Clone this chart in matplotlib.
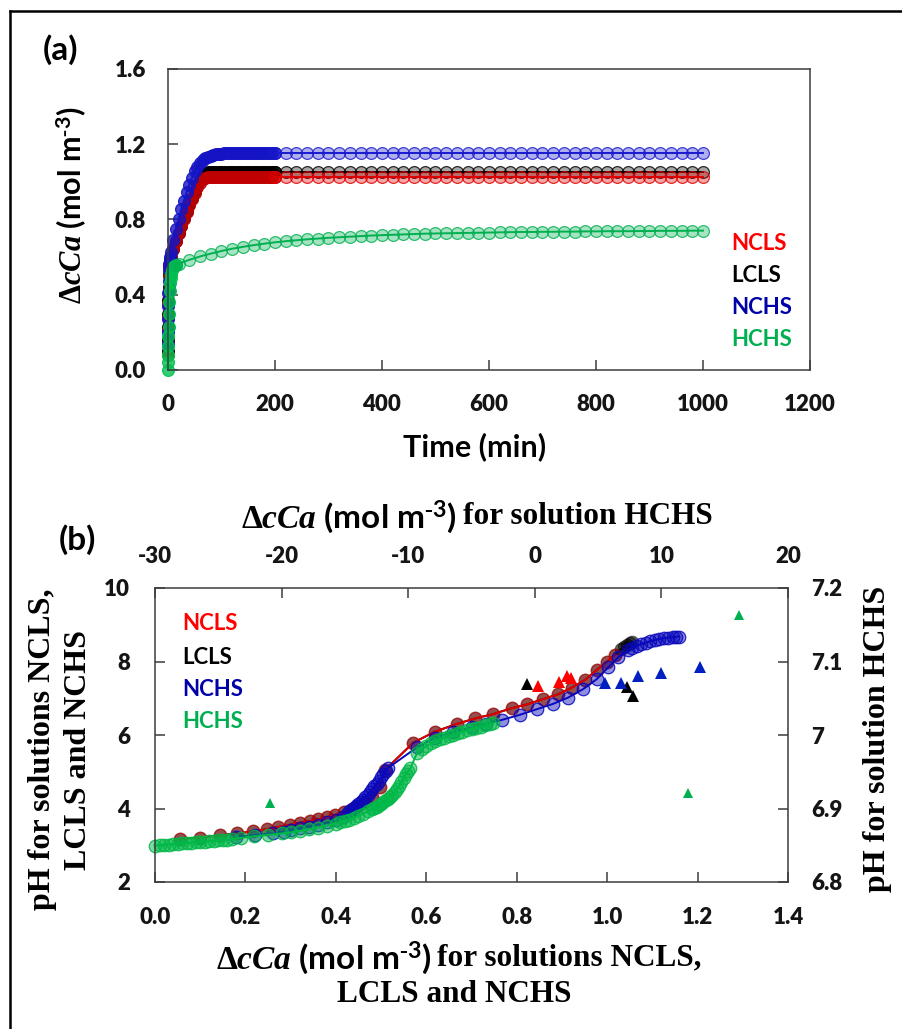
import matplotlib
matplotlib.use("Agg")
import matplotlib.pyplot as plt
from matplotlib.colors import to_rgba
from matplotlib.lines import Line2D

plt.rcParams['font.family'] = ['Lato', 'DejaVu Sans']
plt.rcParams['font.weight'] = 'bold'
plt.rcParams['axes.unicode_minus'] = False
plt.rcParams['mathtext.fontset'] = 'custom'
plt.rcParams['mathtext.rm'] = 'Liberation Serif'
plt.rcParams['mathtext.it'] = 'Liberation Serif:italic'
plt.rcParams['mathtext.bf'] = 'Liberation Serif:bold'
plt.rcParams['mathtext.sf'] = 'Lato:bold'

# ---------------- (a) calcium uptake vs time ----------------
TIME_A = [0, 0.2, 0.4, 0.6, 0.8, 1, 1.5, 2, 3, 4,
          5, 10, 15, 20, 25, 30, 35, 40, 45, 50, 55, 60, 65, 70, 75, 80, 85, 90, 95, 100,
          105, 110, 115, 120, 125, 130, 135, 140, 145, 150, 155, 160, 165, 170, 175, 180,
          185, 190, 195, 200,
          220, 240, 260, 280, 300, 320, 340, 360, 380, 400, 420, 440, 460, 480, 500, 520,
          540, 560, 580, 600, 620, 640, 660, 680, 700, 720, 740, 760, 780, 800, 820, 840,
          860, 880, 900, 920, 940, 960, 980, 1000]

DCA_NCLS = [0.08, 0.14, 0.21, 0.28, 0.35, 0.42, 0.50, 0.55, 0.57, 0.585,
            0.60, 0.645, 0.685, 0.725, 0.765, 0.80, 0.84, 0.875, 0.91, 0.94, 0.97, 0.995,
            1.015, 1.022, 1.024, 1.024, 1.024, 1.024, 1.024, 1.024,
            1.024, 1.024, 1.024, 1.024, 1.024, 1.024, 1.024, 1.024, 1.024, 1.024, 1.024,
            1.024, 1.024, 1.024, 1.024, 1.024, 1.024, 1.024, 1.024, 1.024,
            1.024, 1.024, 1.024, 1.024, 1.024, 1.024, 1.024, 1.024, 1.024, 1.024, 1.024,
            1.024, 1.024, 1.024, 1.024, 1.024, 1.024, 1.024, 1.024, 1.024, 1.024, 1.024,
            1.024, 1.024, 1.024, 1.024, 1.024, 1.024, 1.024, 1.024, 1.024, 1.024, 1.024,
            1.024, 1.024, 1.024, 1.024, 1.024, 1.024, 1.024]

DCA_LCLS = [0.10, 0.16, 0.23, 0.30, 0.37, 0.44, 0.51, 0.55, 0.57, 0.585,
            0.60, 0.645, 0.685, 0.725, 0.765, 0.805, 0.845, 0.88, 0.915, 0.95, 0.98, 1.01,
            1.035, 1.048, 1.05, 1.05, 1.05, 1.05, 1.05, 1.05,
            1.05, 1.05, 1.05, 1.05, 1.05, 1.05, 1.05, 1.05, 1.05, 1.05, 1.05,
            1.05, 1.05, 1.05, 1.05, 1.05, 1.05, 1.05, 1.05, 1.05,
            1.05, 1.05, 1.05, 1.05, 1.05, 1.05, 1.05, 1.05, 1.05, 1.05, 1.05,
            1.05, 1.05, 1.05, 1.05, 1.05, 1.05, 1.05, 1.05, 1.05, 1.05, 1.05,
            1.05, 1.05, 1.05, 1.05, 1.05, 1.05, 1.05, 1.05, 1.05, 1.05, 1.05,
            1.05, 1.05, 1.05, 1.05, 1.05, 1.05, 1.05]

DCA_NCHS = [0.14, 0.20, 0.27, 0.34, 0.41, 0.47, 0.53, 0.565, 0.585, 0.60,
            0.625, 0.69, 0.75, 0.80, 0.855, 0.90, 0.945, 0.985, 1.02, 1.055, 1.08, 1.10,
            1.115, 1.125, 1.133, 1.138, 1.142, 1.145, 1.147, 1.149,
            1.15, 1.15, 1.151, 1.151, 1.152, 1.152, 1.152, 1.152, 1.152, 1.152, 1.152,
            1.152, 1.152, 1.152, 1.152, 1.152, 1.152, 1.152, 1.152, 1.152,
            1.152, 1.152, 1.152, 1.152, 1.152, 1.152, 1.152, 1.152, 1.152, 1.152, 1.152,
            1.152, 1.152, 1.152, 1.152, 1.152, 1.152, 1.152, 1.152, 1.152, 1.152, 1.152,
            1.152, 1.152, 1.152, 1.152, 1.152, 1.152, 1.152, 1.152, 1.152, 1.152, 1.152,
            1.152, 1.152, 1.152, 1.152, 1.152, 1.152, 1.152]

TIME_HCHS = [0, 0.2, 0.4, 0.6, 0.8, 1, 1.5, 2, 3, 4, 5, 6, 8, 10, 12, 15,
             20, 40, 60, 80, 100, 120, 140, 160, 180, 200, 220, 240, 260, 280, 300, 320,
             340, 360, 380, 400, 420, 440, 460, 480, 500, 520, 540, 560, 580, 600, 620,
             640, 660, 680, 700, 720, 740, 760, 780, 800, 820, 840, 860, 880, 900, 920,
             940, 960, 980, 1000]
DCA_HCHS = [0.0, 0.04, 0.08, 0.13, 0.18, 0.23, 0.30, 0.36, 0.42, 0.46, 0.49, 0.51,
            0.53, 0.54, 0.55, 0.56,
            0.565, 0.585, 0.603, 0.618, 0.632, 0.644, 0.654, 0.663, 0.671, 0.678, 0.684,
            0.689, 0.694, 0.698, 0.702, 0.705, 0.708, 0.711, 0.714, 0.716, 0.718, 0.72,
            0.722, 0.724, 0.725, 0.726, 0.727, 0.728, 0.729, 0.73, 0.731, 0.732, 0.733,
            0.733, 0.734, 0.734, 0.735, 0.735, 0.736, 0.736, 0.737, 0.737, 0.737, 0.738,
            0.738, 0.739, 0.739, 0.739, 0.74, 0.74]

# ---------------- (b) pH vs calcium uptake ----------------
B_NCLS_X = [0.055, 0.10, 0.144, 0.182, 0.217, 0.247, 0.273, 0.299, 0.321, 0.343, 0.361,
            0.38, 0.398, 0.417, 0.435, 0.45, 0.464, 0.479, 0.498, 0.509, 0.571, 0.619,
            0.667, 0.708, 0.748, 0.789, 0.822, 0.859, 0.892, 0.922, 0.951, 0.977, 0.999,
            1.017]
B_NCLS_PH = [3.17, 3.21, 3.27, 3.32, 3.38, 3.44, 3.50, 3.56, 3.61, 3.66, 3.71, 3.76,
             3.82, 3.90, 3.98, 4.07, 4.19, 4.32, 4.59, 5.05, 5.79, 6.09, 6.30, 6.45, 6.57,
             6.73, 6.83, 6.98, 7.11, 7.29, 7.50, 7.77, 7.99, 8.18]

B_LCLS_X = [0.055, 0.10, 0.144, 0.182, 0.217, 0.247, 0.273, 0.299, 0.321, 0.343, 0.361,
            0.38, 0.398, 0.417, 0.435, 0.45, 0.464, 0.479, 0.498, 0.509, 0.571, 0.619,
            0.667, 0.708, 0.748, 0.789, 0.822, 0.859, 0.892, 0.922, 0.951, 0.977, 0.999,
            1.017, 1.03, 1.037, 1.043, 1.05, 1.055]
B_LCLS_PH = [3.17, 3.21, 3.27, 3.32, 3.38, 3.44, 3.50, 3.56, 3.61, 3.66, 3.71, 3.76,
             3.82, 3.90, 3.98, 4.07, 4.19, 4.32, 4.59, 5.05, 5.79, 6.09, 6.30, 6.45, 6.57,
             6.73, 6.83, 6.98, 7.11, 7.29, 7.50, 7.77, 7.99, 8.18, 8.33, 8.40, 8.45, 8.49,
             8.52]

B_NCHS_X = [0.18, 0.221, 0.262, 0.285, 0.30, 0.32, 0.34, 0.36, 0.38, 0.40, 0.415, 0.425,
            0.43, 0.435, 0.44, 0.445, 0.45, 0.455, 0.46, 0.465, 0.47, 0.475, 0.48, 0.485,
            0.49, 0.495, 0.50, 0.505, 0.51, 0.515, 0.579, 0.62, 0.66, 0.70, 0.733, 0.767,
            0.807, 0.844, 0.881, 0.914, 0.947, 0.977, 1.003, 1.025, 1.047, 1.055, 1.065,
            1.075, 1.085, 1.095, 1.105, 1.115, 1.125, 1.135, 1.145, 1.152, 1.158]
B_NCHS_PH = [3.23, 3.28, 3.33, 3.37, 3.41, 3.46, 3.51, 3.56, 3.62, 3.70, 3.78, 3.86,
             3.92, 3.97, 4.02, 4.07, 4.12, 4.18, 4.24, 4.31, 4.38, 4.45, 4.52, 4.60, 4.68,
             4.76, 4.85, 4.94, 5.03, 5.10, 5.66, 5.93, 6.08, 6.21, 6.31, 6.41, 6.55, 6.70,
             6.85, 7.02, 7.25, 7.52, 7.85, 8.12, 8.30, 8.37, 8.42, 8.47, 8.51, 8.55, 8.58,
             8.61, 8.63, 8.65, 8.66, 8.67, 8.68]

B_HCHS_X = [0.0, 0.01, 0.02, 0.03, 0.04, 0.05, 0.06, 0.07, 0.08, 0.09, 0.10, 0.11, 0.12,
            0.13, 0.14, 0.15, 0.16, 0.17,
            0.19, 0.22, 0.25, 0.28, 0.30, 0.32, 0.34, 0.36, 0.38, 0.40, 0.41, 0.42, 0.43,
            0.44, 0.45, 0.46, 0.47,
            0.48, 0.485, 0.49, 0.495, 0.50, 0.505, 0.51, 0.515, 0.52, 0.525, 0.53, 0.535,
            0.54, 0.545, 0.55, 0.555, 0.56, 0.565,
            0.58, 0.59, 0.60, 0.61, 0.62, 0.63, 0.64, 0.65, 0.66, 0.67, 0.68, 0.69, 0.70,
            0.71, 0.72, 0.73, 0.74, 0.748]
B_HCHS_PH = [2.99, 3.00, 3.01, 3.02, 3.03, 3.04, 3.05, 3.06, 3.07, 3.08, 3.09, 3.10, 3.11,
             3.12, 3.13, 3.14, 3.15, 3.16,
             3.20, 3.24, 3.28, 3.32, 3.35, 3.39, 3.43, 3.48, 3.53, 3.59, 3.62, 3.66, 3.70,
             3.75, 3.80, 3.86, 3.92,
             3.98, 4.01, 4.05, 4.09, 4.13, 4.17, 4.22, 4.27, 4.32, 4.38, 4.45, 4.53, 4.62,
             4.72, 4.83, 4.93, 5.02, 5.10,
             5.52, 5.62, 5.70, 5.77, 5.83, 5.88, 5.93, 5.97, 6.01, 6.05, 6.09, 6.13, 6.17,
             6.20, 6.23, 6.26, 6.29, 6.32]

# measured points (triangles)
EXP_NCLS_X = [0.846, 0.893, 0.912, 0.921]
EXP_NCLS_PH = [7.33, 7.45, 7.60, 7.55]
EXP_LCLS_X = [0.822, 1.043, 1.057]
EXP_LCLS_PH = [7.39, 7.30, 7.06]
EXP_NCHS_X = [0.995, 1.030, 1.069, 1.119, 1.206]
EXP_NCHS_PH = [7.41, 7.41, 7.61, 7.68, 7.84]
EXP_HCHS_X = [-20.9, 12.1, 16.1]      # top axis
EXP_HCHS_PH = [6.907, 6.921, 7.163]   # right axis

SERIES = ['NCLS', 'LCLS', 'NCHS', 'HCHS']
LINE_COLORS = {'NCLS': '#e00000', 'LCLS': '#000000', 'NCHS': '#1a1ad0', 'HCHS': '#00b050'}
DENSE_COLORS = {'NCLS': '#c00000', 'LCLS': '#000000', 'NCHS': '#1414c4', 'HCHS': '#00c050'}
TEXT_COLORS = {'NCLS': '#ff0000', 'LCLS': '#000000', 'NCHS': '#0000a8', 'HCHS': '#00b050'}

W, H = 903, 1029
fig = plt.figure(figsize=(W / 100, H / 100), dpi=100)


def fx(px):
    return px / W


def fy(py):
    return 1 - py / H


SPINE = '#3c3c3c'
SERIF = 'Liberation Serif'
TICK_SIZE = 16


def style_axes(ax):
    for s in ax.spines.values():
        s.set_color(SPINE)
        s.set_linewidth(1.1)


def bold_ticks(ax):
    for lbl in ax.get_xticklabels() + ax.get_yticklabels():
        lbl.set_fontweight('heavy')
        lbl.set_fontsize(TICK_SIZE)
        lbl.set_color('#151515')


def circles(ax, x, y, c, ms=8.5, face_alpha=0.4, edge_alpha=0.8, lw=1.4, line=True):
    ax.plot(x, y, '-' if line else 'none', color=c, lw=lw, marker='o', ms=ms,
            mfc=to_rgba(c, face_alpha), mec=to_rgba(c, edge_alpha), mew=0.9,
            clip_on=False)


def time_series(ax, t, y, name, t_split):
    # fast-sampled start is drawn as a solid band, the 20-min readings as open discs
    n = sum(1 for v in t if v <= t_split)
    circles(ax, t[:n], y[:n], DENSE_COLORS[name], face_alpha=0.8, edge_alpha=0.9,
            line=False)
    circles(ax, t[n - 1:], y[n - 1:], LINE_COLORS[name], face_alpha=0.35, edge_alpha=0.8)


# panel (a)
ax_a = fig.add_axes([fx(168), fy(370), (810 - 168) / W, (370 - 68.7) / H])
style_axes(ax_a)
time_series(ax_a, TIME_A, DCA_LCLS, 'LCLS', 200)
time_series(ax_a, TIME_A, DCA_NCLS, 'NCLS', 200)
time_series(ax_a, TIME_A, DCA_NCHS, 'NCHS', 200)
time_series(ax_a, TIME_HCHS, DCA_HCHS, 'HCHS', 15)
ax_a.set_xlim(0, 1200)
ax_a.set_ylim(0, 1.6)
ax_a.set_xticks([0, 200, 400, 600, 800, 1000, 1200])
ax_a.set_yticks([0.0, 0.4, 0.8, 1.2, 1.6])
ax_a.set_yticklabels(['0.0', '0.4', '0.8', '1.2', '1.6'])
ax_a.tick_params(direction='in', length=7, width=1.1, color=SPINE)
ax_a.tick_params(axis='x', pad=17)
ax_a.tick_params(axis='y', pad=16)
bold_ticks(ax_a)

dca_label = r'$\Delta cCa$ (mol m$^{\text{-}\mathsf{3}}$)'

fig.text(fx(61), fy(50), '(a)', ha='center', va='center', size=24, weight='bold')
fig.text(fx(475), fy(447), 'Time (min)', ha='center', va='center', size=22, weight='bold')
fig.text(fx(72), fy(205), dca_label, rotation=90,
         ha='center', va='center', size=22, weight='bold')
for name, yp in zip(SERIES, [243, 275, 307, 339]):
    fig.text(fx(731), fy(yp), name, color=TEXT_COLORS[name], ha='left', va='center',
             size=16, weight='bold')

# panel (b)
rect_b = [fx(155), fy(882), 633 / W, 294 / H]
ax_b = fig.add_axes(rect_b)
style_axes(ax_b)
circles(ax_b, B_LCLS_X, B_LCLS_PH, LINE_COLORS['LCLS'], ms=9, face_alpha=0.55, edge_alpha=0.5)
circles(ax_b, B_NCLS_X, B_NCLS_PH, LINE_COLORS['NCLS'], ms=9, face_alpha=0.3, edge_alpha=0.5)
circles(ax_b, B_NCHS_X, B_NCHS_PH, '#0808bc', ms=9, face_alpha=0.45, edge_alpha=0.85)
circles(ax_b, B_HCHS_X, B_HCHS_PH, '#00b848', ms=9, face_alpha=0.5, edge_alpha=0.85)
ax_b.plot(EXP_NCLS_X, EXP_NCLS_PH, '^', color='#ff0000', ms=9, mew=0)
ax_b.plot(EXP_LCLS_X, EXP_LCLS_PH, '^', color='#000000', ms=9, mew=0)
ax_b.plot(EXP_NCHS_X, EXP_NCHS_PH, '^', color='#0020c0', ms=9, mew=0)
ax_b.set_xlim(0, 1.4)
ax_b.set_ylim(2, 10)
ax_b.set_xticks([0.0, 0.2, 0.4, 0.6, 0.8, 1.0, 1.2, 1.4])
ax_b.set_xticklabels(['0.0', '0.2', '0.4', '0.6', '0.8', '1.0', '1.2', '1.4'])
ax_b.set_yticks([2, 4, 6, 8, 10])
ax_b.tick_params(direction='in', length=7, width=1.1, color=SPINE)
ax_b.tick_params(axis='x', pad=18)
ax_b.tick_params(axis='y', pad=18)
bold_ticks(ax_b)

ax_s = fig.add_axes(rect_b, label='hchs')
ax_s.patch.set_visible(False)
for s in ax_s.spines.values():
    s.set_visible(False)
ax_s.plot(EXP_HCHS_X, EXP_HCHS_PH, '^', color='#00b050', ms=7.5, mew=0)
ax_s.set_xlim(-30, 20)
ax_s.set_ylim(6.8, 7.2)
ax_s.xaxis.tick_top()
ax_s.yaxis.tick_right()
ax_s.set_xticks([-30, -20, -10, 0, 10, 20])
ax_s.set_xticklabels(['-30', '-20', '-10', '0', '10', '20'])
ax_s.set_yticks([6.8, 6.9, 7.0, 7.1, 7.2])
ax_s.set_yticklabels(['6.8', '6.9', '7', '7.1', '7.2'])
ax_s.tick_params(direction='in', length=7, width=1.1, color=SPINE)
ax_s.tick_params(axis='x', pad=15)
ax_s.tick_params(axis='y', pad=17)
bold_ticks(ax_s)

fig.text(fx(77), fy(540), '(b)', ha='center', va='center', size=24, weight='bold')
for name, yp in zip(SERIES, [623, 657, 689, 722]):
    fig.text(fx(182), fy(yp), name, color=TEXT_COLORS[name], ha='left', va='center',
             size=16, weight='bold')

# top axis title
fig.text(fx(457), fy(517), dca_label, ha='right', va='center', size=24, weight='bold')
fig.text(fx(463), fy(517), 'for solution HCHS', ha='left', va='center', size=22.5,
         weight='bold', family=SERIF)
# bottom axis title, two lines
fig.text(fx(432), fy(958), dca_label, ha='right', va='center', size=24, weight='bold')
fig.text(fx(437), fy(958), 'for solutions NCLS,', ha='left', va='center', size=22.5,
         weight='bold', family=SERIF)
fig.text(fx(454), fy(995), 'LCLS and NCHS', ha='center', va='center', size=22.5,
         weight='bold', family=SERIF)
# left and right pH titles
fig.text(fx(43), fy(749), 'pH for solutions NCLS,', rotation=90, ha='center', va='center',
         size=23, weight='bold', family=SERIF)
fig.text(fx(79), fy(750), 'LCLS and NCHS', rotation=90, ha='center', va='center',
         size=23, weight='bold', family=SERIF)
fig.text(fx(878), fy(739), 'pH for solution HCHS', rotation=90, ha='center', va='center',
         size=23, weight='bold', family=SERIF)

# outer frame (top and left edges)
fig.add_artist(Line2D([fx(10), 1.0], [fy(11), fy(11)], color='black', lw=1.8))
fig.add_artist(Line2D([fx(10), fx(10)], [fy(11), 0.0], color='black', lw=1.8))

fig.savefig('out.png', dpi=100)
